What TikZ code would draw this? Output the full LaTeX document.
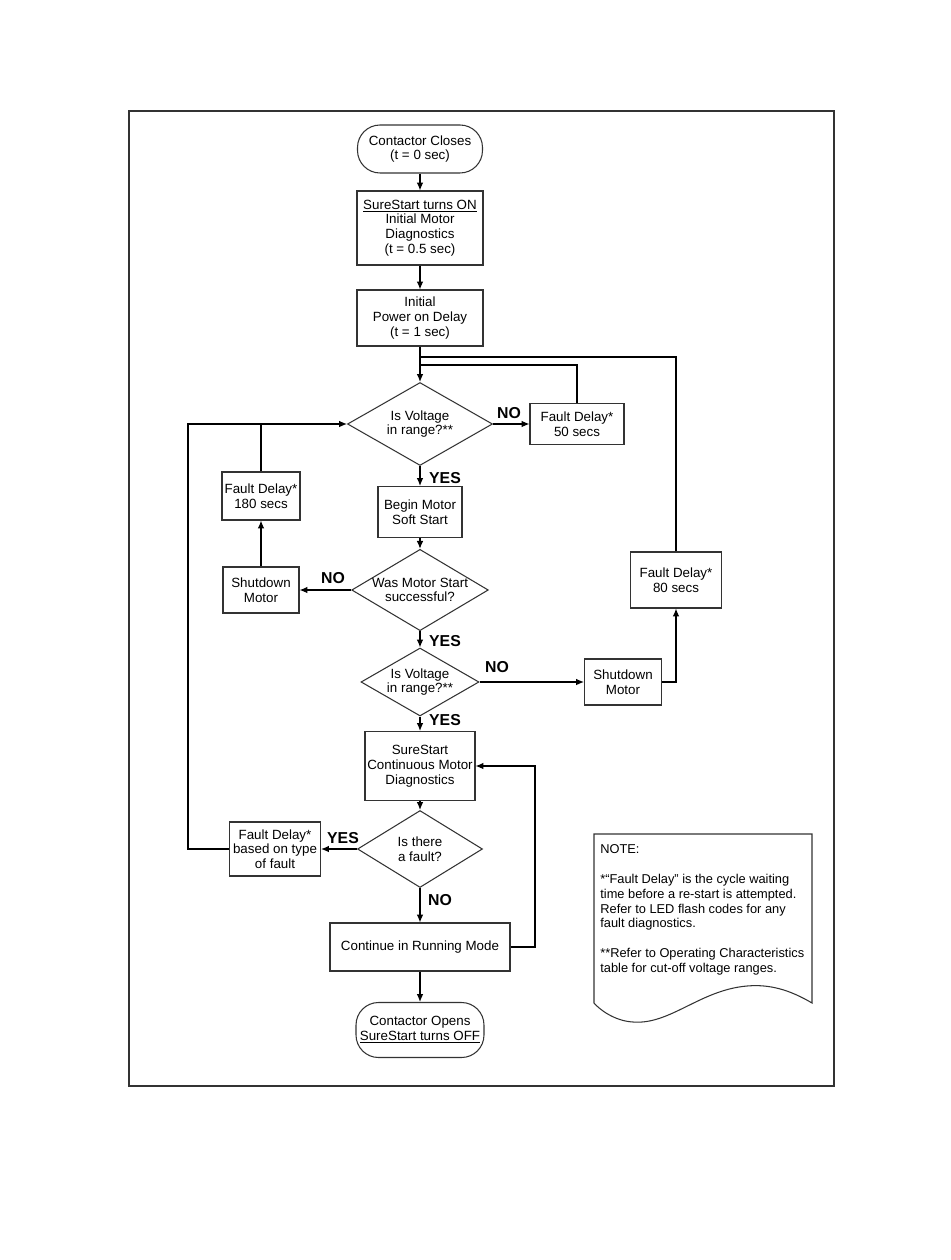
\documentclass[tikz,border=0pt]{standalone}
\usepackage{fontspec}
\setmainfont{Liberation Sans}
\usepackage{tikz}
\usetikzlibrary{arrows.meta}
\usetikzlibrary{shapes.geometric}
\usetikzlibrary{positioning}
\definecolor{mline}{rgb}{0.2, 0.2, 0.2}
\tikzset{box/.style = {draw = mline, line width = 0.6pt, align = center, inner sep = 0,
                       font = \fontsize{7.6}{8.4}\selectfont}}
\tikzset{term/.style = {box, rounded corners = 0.45cm}}
\tikzset{decision/.style = {box, diamond, aspect = 1.7}}
\tikzset{lbl/.style = {inner sep = 0, font = \fontsize{9}{10}\selectfont\bfseries}}
\tikzset{arr/.style = {draw, line width = 0.7pt, -{Latex[length = 4.5pt, width = 3.8pt]}}}
\tikzset{wire/.style = {draw, line width = 0.7pt}}

\begin{document}
\begin{tikzpicture}[x = 0.02cm, y = -0.02cm]
    \useasboundingbox (0, 0) rectangle (950, 1260);
    \draw [mline, line width = 1.2pt] (129, 111) rectangle (834, 1086);

    \node [term, minimum width = 2.5cm, minimum height = 0.96cm] (start) at (420, 149)
      {Contactor Closes\\(t = 0 sec)};
    \node [box, minimum width = 2.52cm, minimum height = 1.48cm] (diag) at (420, 228)
      {\underline{SureStart turns ON}\\Initial Motor\\Diagnostics\\(t = 0.5 sec)};
    \node [box, minimum width = 2.52cm, minimum height = 1.12cm] (pwr) at (420, 318)
      {Initial\\Power on Delay\\(t = 1 sec)};
    \coordinate (j1) at (420, 357);
    \coordinate (j2) at (420, 365);

    \node [decision, minimum width = 2.9cm, minimum height = 1.66cm] (volt1) at (420, 424)
      {Is Voltage\\in range?**};
    \node [box, minimum width = 1.88cm, minimum height = 0.82cm] (fd50) at (577, 424)
      {Fault Delay*\\50 secs};
    \node [box, minimum width = 1.56cm, minimum height = 0.96cm] (fd180) at (261, 496)
      {Fault Delay*\\180 secs};
    \node [box, minimum width = 1.68cm, minimum height = 1.02cm] (soft) at (420, 512)
      {Begin Motor\\Soft Start};
    \node [decision, aspect = 1.68, minimum width = 2.68cm, minimum height = 1.6cm] (okstart) at (420, 590)
      {Was Motor Start\\successful?};
    \node [box, minimum width = 1.52cm, minimum height = 0.92cm] (shutL) at (261, 590)
      {Shutdown\\Motor};
    \node [box, minimum width = 1.82cm, minimum height = 1.12cm] (fd80) at (676, 580)
      {Fault Delay*\\80 secs};
    \node [decision, minimum width = 2.36cm, minimum height = 1.36cm] (volt2) at (420, 682)
      {Is Voltage\\in range?**};
    \node [box, minimum width = 1.54cm, minimum height = 0.92cm] (shutR) at (623, 682)
      {Shutdown\\Motor};
    \node [box, minimum width = 2.2cm, minimum height = 1.38cm] (cont) at (420, 766)
      {SureStart\\Continuous Motor\\Diagnostics};
    \node [decision, minimum width = 2.5cm, minimum height = 1.54cm] (fault) at (420, 849)
      {Is there\\a fault?};
    \node [box, minimum width = 1.82cm, minimum height = 1.08cm] (fdtype) at (275, 849)
      {Fault Delay*\\based on type\\of fault};
    \node [box, minimum width = 3.6cm, minimum height = 0.96cm] (run) at (420, 947)
      {Continue in Running Mode};
    \node [term, minimum width = 2.56cm, minimum height = 1.1cm] (stop) at (420, 1030)
      {Contactor Opens\\\underline{SureStart turns OFF}};
    \coordinate (lft) at (188, 424);
    \coordinate (rgt) at (535, 766);

    \path [arr] (start) -- (diag);
    \path [arr] (diag) -- (pwr);
    \path [arr] (pwr) -- (volt1);
    \path [wire] (fd80.north) |- (j1);
    \path [wire] (fd50.north) |- (j2);
    \path [arr] (volt1.east) -- (fd50.west);
    \path [arr] (volt1) -- (soft);
    \path [arr] (soft) -- (okstart);
    \path [arr] (okstart.west) -- (shutL.east);
    \path [arr] (shutL) -- (fd180);
    \path [wire] (fd180.north) -- (fd180.north |- volt1.west);
    \path [arr] (fdtype.west) -| (lft) -- (volt1.west);
    \path [arr] (okstart) -- (volt2);
    \path [arr] (volt2.east) -- (shutR.west);
    \path [arr] (shutR.east) -| (fd80.south);
    \path [arr] (volt2) -- (cont);
    \path [arr] (cont) -- (fault);
    \path [arr] (fault.west) -- (fdtype.east);
    \path [arr] (fault) -- (run);
    \path [arr] (run.east) -| (rgt) -- (cont.east);
    \path [arr] (run) -- (stop);

    \node [lbl] (no1) at (509, 413) {NO};
    \node [lbl] (yes1) at (445, 478) {YES};
    \node [lbl] (no2) at (333, 578) {NO};
    \node [lbl] (yes2) at (445, 641) {YES};
    \node [lbl] (no3) at (497, 667) {NO};
    \node [lbl] (yes3) at (445, 720) {YES};
    \node [lbl] (yes4) at (343, 838) {YES};
    \node [lbl] (no4) at (440, 900) {NO};

    \draw [mline, line width = 0.6pt] (594, 834) -- (812, 834) -- (812, 1003)
      .. controls (790, 990) and (770, 984) .. (747, 986)
      .. controls (700, 990) and (670, 1025) .. (633, 1022)
      .. controls (615, 1021) and (600, 1010) .. (594, 1003) -- cycle;
    \node [anchor = north west, inner sep = 0, align = left,
           font = \fontsize{7.3}{8.5}\selectfont] (notetxt) at (600, 844)
      {NOTE:\\[8.5pt]
       *“Fault Delay” is the cycle waiting\\
       time before a re-start is attempted.\\
       Refer to LED flash codes for any\\
       fault diagnostics.\\[8.5pt]
       **Refer to Operating Characteristics\\
       table for cut-off voltage ranges.};
  \end{tikzpicture}
\end{document}
